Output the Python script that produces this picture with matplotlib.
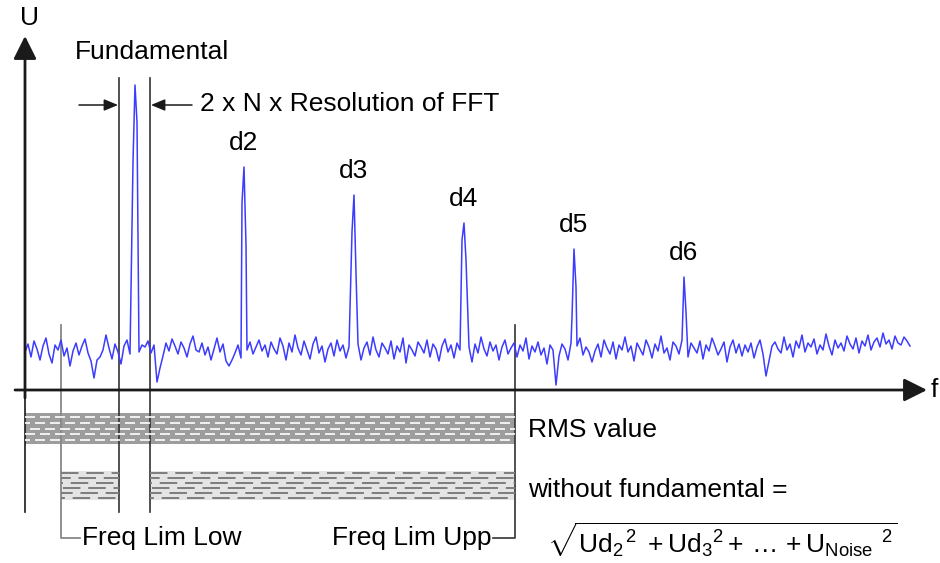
import numpy as np
import matplotlib
matplotlib.use('Agg')
import matplotlib.pyplot as plt

plt.rcParams.update({
    'font.family': ['Liberation Sans', 'DejaVu Sans'],
    'font.size': 19,
    'mathtext.fontset': 'custom',
    'mathtext.rm': 'Liberation Sans',
    'mathtext.it': 'Liberation Sans:italic',
})

# ---------------------------------------------------------------------------
# data (f in px-like units from the origin, U above the f axis)
# ---------------------------------------------------------------------------
noise_u = [
    38, 46, 33, 49, 41, 30, 44, 52, 36, 27, 45, 40, 50, 34, 42, 24, 39, 47, 35, 44,
    51, 37, 29, 12, 30, 33, 40, 55, 42, 31, 46, 38, 26, 44, 50, 36, 41, 42, 38, 45,
    43, 49, 37, 45, 8, 22, 34, 47, 39, 51, 44, 36, 48, 42, 33, 46, 54, 40, 38, 47,
    35, 43, 30, 41, 52, 38, 46, 29, 24, 30, 37, 45, 32, 26, 40, 48, 36, 43, 50, 39,
    45, 33, 48, 41, 36, 52, 44, 30, 47, 38, 55, 42, 35, 49, 40, 31, 46, 53, 37, 44,
    28, 41, 47, 34, 50, 39, 45, 32, 43, 51, 37, 46, 30, 42, 48, 35, 53, 40, 33, 47,
    42, 36, 49, 31, 44, 38, 52, 27, 45, 40, 34, 48, 43, 37, 50, 33, 46, 41, 29, 44,
    51, 38, 45, 32, 47, 40, 35, 49, 43, 28, 46, 37, 53, 41, 34, 48, 39, 45, 30, 43,
    50, 36, 42, 47, 33, 45, 39, 52, 31, 44, 38, 48, 35, 42, 26, 45, 40, 5, 34, 46,
    41, 30, 47, 37, 44, 52, 35, 43, 38, 28, 39, 46, 33, 50, 42, 36, 48, 31, 45, 40,
    53, 38, 44, 29, 47, 41, 35, 50, 43, 32, 46, 39, 54, 37, 42, 30, 48, 44, 36, 51,
    40, 33, 47, 42, 37, 49, 31, 45, 39, 52, 44, 35, 41, 48, 28, 43, 50, 37, 46, 34,
    45, 38, 47, 32, 43, 50, 36, 14, 29, 44, 48, 41, 37, 53, 40, 46, 33, 49, 42, 55,
    38, 47, 43, 51, 36, 45, 40, 56, 44, 35, 50, 42, 47, 39, 54, 46, 41, 52, 37, 49,
    44, 55, 40, 48, 52, 43, 57, 46, 50, 41, 54, 47, 45, 53, 49, 44,
]
NOISE_STEP = 3

peak_names = ['', 'd2', 'd3', 'd4', 'd5', 'd6']
peak_f = [110, 219, 329, 439, 549, 659]
peak_top = [305, 223, 195, 167, 141, 113]
peak_left = [228, 187, 158, 150, 73, 50]
peak_right = [268, 145, 117, 130, 103, 78]

FUND_LOW, FUND_HIGH = 94, 125       # 2 x N x resolution window
FREQ_LIM_LOW, FREQ_LIM_UPP = 36, 490

# ---------------------------------------------------------------------------
fig = plt.figure(figsize=(9.4, 5.63), dpi=100)
ax = fig.add_axes([0, 0, 1, 1])
ax.set_xlim(-25, 915)
ax.set_ylim(-173, 390)
ax.axis('off')

# spectrum trace = noise floor + spikes
nf = np.arange(len(noise_u)) * NOISE_STEP
nu = np.array(noise_u, dtype=float)
keep = np.ones(len(nf), dtype=bool)
for p in peak_f:
    keep &= np.abs(nf - p) > 2.5
xs = list(nf[keep])
ys = list(nu[keep])
for p, l, t, r in zip(peak_f, peak_left, peak_top, peak_right):
    xs += [p - 2, p, p + 2]
    ys += [l, t, r]
order = np.argsort(xs)
ax.plot(np.array(xs)[order], np.array(ys)[order], color='#3c3cff', lw=1.1, zorder=3)

for name, p, t in zip(peak_names, peak_f, peak_top):
    if name:
        ax.text(p, t + 24, name, ha='center', va='center')

# axes with arrows
dark = '#1a1a1a'
ax.annotate('', xy=(0, 354), xytext=(0, -8),
            arrowprops=dict(arrowstyle='-|>,head_length=0.7,head_width=0.35',
                            lw=2, color=dark, mutation_scale=20, shrinkA=0, shrinkB=0))
ax.annotate('', xy=(902, 0), xytext=(-10, 0),
            arrowprops=dict(arrowstyle='-|>,head_length=0.7,head_width=0.35',
                            lw=2, color=dark, mutation_scale=20, shrinkA=0, shrinkB=0))
ax.plot([0, 0], [0, -122], color=dark, lw=1.2)
ax.text(5, 372, 'U', ha='center', va='center')
ax.text(906, 0, 'f', ha='left', va='center')

# fundamental window
for fx in (FUND_LOW, FUND_HIGH):
    ax.plot([fx, fx], [312, -122], color='#333333', lw=1.2)
ax.annotate('', xy=(FUND_LOW - 1, 285), xytext=(FUND_LOW - 40, 285),
            arrowprops=dict(arrowstyle='-|>,head_length=0.6,head_width=0.25',
                            lw=1.1, color=dark, mutation_scale=14, shrinkA=0, shrinkB=0))
ax.annotate('', xy=(FUND_HIGH + 1, 285), xytext=(FUND_HIGH + 42, 285),
            arrowprops=dict(arrowstyle='-|>,head_length=0.6,head_width=0.25',
                            lw=1.1, color=dark, mutation_scale=14, shrinkA=0, shrinkB=0))
ax.text(127, 338, 'Fundamental', ha='center', va='center')
ax.text(175, 286, '2 x N x Resolution of FFT', ha='left', va='center')

# frequency limits
ax.plot([FREQ_LIM_LOW, FREQ_LIM_LOW, FREQ_LIM_LOW + 19], [65, -148, -148],
        color='#888888', lw=1.3)
ax.plot([FREQ_LIM_UPP, FREQ_LIM_UPP, FREQ_LIM_UPP - 22], [65, -148, -148],
        color='#333333', lw=1.2)
ax.text(FREQ_LIM_LOW + 21, -148, 'Freq Lim Low', ha='left', va='center')
ax.text(FREQ_LIM_UPP - 24, -148, 'Freq Lim Upp', ha='right', va='center')

# RMS band
ax.fill_between([0, FREQ_LIM_UPP], -54, -23, color='#9d9d9d', lw=0, zorder=1)
for i, yy in enumerate(np.linspace(-27, -50, 5)):
    ax.hlines(yy, 0, FREQ_LIM_UPP, colors='white', lw=1.2,
              linestyles=(i * 3, (6, 3)), zorder=2)
ax.text(503, -40, 'RMS value', ha='left', va='center')

# RMS without fundamental band
for a, b in ((FREQ_LIM_LOW, FUND_LOW), (FUND_HIGH, FREQ_LIM_UPP)):
    ax.fill_between([a, b], -110, -81, color='#e4e4e4', lw=0, zorder=1)
    for i, yy in enumerate(np.linspace(-83, -108, 6)):
        ax.hlines(yy, a, b, colors='#7d7d7d', lw=1.4,
                  linestyles=(i * 4, (9, 4)), zorder=2)
ax.text(503, -100, 'without fundamental =', ha='left', va='center')
ax.text(522, -150,
        r'$\sqrt{\mathrm{Ud}_2{}^{\,2}\;+\mathrm{Ud}_3{}^{2}+\,\ldots\,+\mathrm{U}_{\mathrm{Noise}}{}^{\;\;2}}$',
        ha='left', va='center')

fig.savefig('out.png', dpi=100)
